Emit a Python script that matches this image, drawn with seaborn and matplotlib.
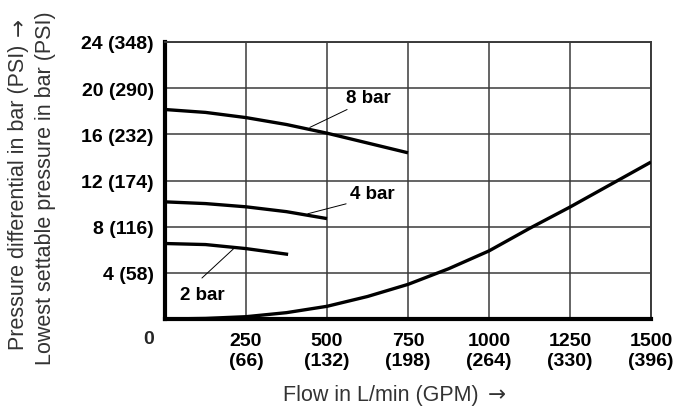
import matplotlib
matplotlib.use("Agg")
import matplotlib.pyplot as plt
import seaborn as sns
import pandas as pd

sns.set_theme(style="white")
plt.rcParams['font.family'] = ['Liberation Sans', 'DejaVu Sans']

# ---- data ----
flow_8 = [0, 125, 250, 375, 500, 625, 750]
p_8 = [18.15, 17.9, 17.45, 16.85, 16.1, 15.25, 14.4]
flow_4 = [0, 125, 250, 375, 500]
p_4 = [10.15, 10.0, 9.72, 9.3, 8.7]
flow_2 = [0, 125, 250, 380]
p_2 = [6.54, 6.45, 6.1, 5.6]
flow_dp = [0, 125, 250, 375, 500, 625, 750, 875, 1000, 1125, 1250, 1375, 1500]
p_dp = [0.0, 0.05, 0.2, 0.55, 1.1, 1.95, 3.0, 4.35, 5.9, 7.85, 9.7, 11.65, 13.6]

x_ticks = [250, 500, 750, 1000, 1250, 1500]
x_labels = ["250\n(66)", "500\n(132)", "750\n(198)", "1000\n(264)", "1250\n(330)", "1500\n(396)"]
y_ticks = [4, 8, 12, 16, 20, 24]
y_labels = ["4 (58)", "8 (116)", "12 (174)", "16 (232)", "20 (290)", "24 (348)"]

curve_labels = ["8 bar", "4 bar", "2 bar"]
label_pos = [(627, 19.2), (640, 10.85), (114, 2.1)]
leader_from = [(562, 18.15), (559, 9.98), (114, 3.55)]
leader_to = [(447, 16.6), (441, 9.12), (216, 6.2)]

x_title = "Flow in L/min (GPM)"
y_title_1 = "Pressure differential in bar (PSI)"
y_title_2 = "Lowest settable pressure in bar (PSI)"
arrow = "→"

W, H = 685, 410
fig = plt.figure(figsize=(W / 100, H / 100), dpi=100)
ax = fig.add_axes([165 / W, 1 - 320 / H, (651 - 165) / W, (320 - 43) / H])

for fx, py in [(flow_8, p_8), (flow_4, p_4), (flow_2, p_2), (flow_dp, p_dp)]:
    df = pd.DataFrame({"flow": fx, "p": py})
    sns.lineplot(data=df, x="flow", y="p", ax=ax, color="black", lw=2.4,
                 estimator=None, sort=False, solid_capstyle="butt", zorder=3)

ax.set_xlim(0, 1500)
ax.set_ylim(0, 24)
ax.set_xticks(x_ticks)
ax.set_xticklabels(x_labels, fontsize=14, fontweight="bold", linespacing=1.3)
ax.set_yticks(y_ticks)
ax.set_yticklabels(y_labels, fontsize=14, fontweight="bold")
ax.tick_params(axis="both", length=0, colors="black")
ax.tick_params(axis="x", pad=9)
ax.tick_params(axis="y", pad=8)
ax.set_xlabel("")
ax.set_ylabel("")

ax.grid(True, color="#3a3a3a", lw=1.1)
ax.set_axisbelow(True)
for s in ["top", "right"]:
    ax.spines[s].set_color("#3a3a3a")
    ax.spines[s].set_linewidth(1.4)
for s in ["left", "bottom"]:
    ax.spines[s].set_color("black")
    ax.spines[s].set_linewidth(3.0)

for lab, pos, a, b in zip(curve_labels, label_pos, leader_from, leader_to):
    ax.text(pos[0], pos[1], lab, fontsize=13.5, fontweight="bold", ha="center",
            va="center", color="black")
    ax.plot([a[0], b[0]], [a[1], b[1]], color="black", lw=0.7, zorder=4)

fig.text(149 / W, 1 - 340 / H, "0", fontsize=14, fontweight="bold", ha="center", va="center")

def fy(py):
    return 1 - py / H

lab_color = "#333333"
fs_lab = 15.5
tx = fig.text(283 / W, fy(401), x_title, fontsize=fs_lab, ha="left",
              va="baseline", color=lab_color)
t1 = fig.text(19 / W, fy(350), y_title_1, fontsize=fs_lab, rotation=90,
              ha="center", va="bottom", color=lab_color)
t2 = fig.text(46 / W, fy(365), y_title_2, fontsize=fs_lab, rotation=90,
              ha="center", va="bottom", color=lab_color)

fig.canvas.draw()
r = fig.canvas.get_renderer()
bx = tx.get_window_extent(r)
b1 = t1.get_window_extent(r)
fig.text((bx.x1 + 9) / W, fy(401), arrow, fontsize=fs_lab, family="DejaVu Sans",
         ha="left", va="baseline", color=lab_color)
fig.text(19 / W, (b1.y1 + 9) / H, arrow, fontsize=fs_lab, family="DejaVu Sans",
         rotation=90, ha="center", va="bottom", color=lab_color)

fig.savefig("out.png", dpi=100)
